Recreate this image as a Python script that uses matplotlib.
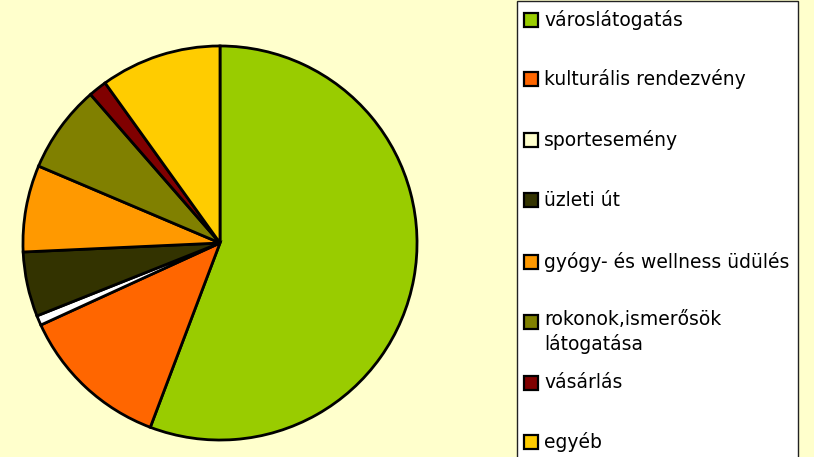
import matplotlib.pyplot as plt
from matplotlib.patches import Rectangle

# data (percent)
categories = ["városlátogatás", "kulturális rendezvény", "sportesemény", "üzleti út",
              "gyógy- és wellness üdülés", "rokonok,ismerősök\nlátogatása", "vásárlás", "egyéb"]
shares = [55.7, 12.4, 0.8, 5.3, 7.1, 7.2, 1.5, 9.9]
colors = ["#99CC00", "#FF6600", "#FFFFFF", "#333300", "#FF9900", "#808000", "#800000", "#FFCC00"]
legend_swatch = ["#99CC00", "#FF6600", "#FFFFCC", "#333300", "#FF9900", "#808000", "#800000", "#FFCC00"]

W, H = 814, 457
fig = plt.figure(figsize=(W / 100, H / 100), dpi=100)
fig.patch.set_facecolor("#FFFFCC")

# pie: centre (220, 243) px, radius 199 px
cx, cy, r = 220, 243, 199
ax = fig.add_axes([(cx - r) / W, (H - cy - r) / H, 2 * r / W, 2 * r / H])
ax.pie(shares, colors=colors, startangle=90, counterclock=False, radius=1,
       wedgeprops=dict(edgecolor="black", linewidth=2.0))
ax.set_xlim(-1.01, 1.01)
ax.set_ylim(-1.01, 1.01)
ax.set_axis_off()

# legend box drawn by hand (the two-line label overflows like in the original)
fig.patches.append(Rectangle((517 / W, -0.01), 281 / W, 1.01 - 1.5 / H, transform=fig.transFigure,
                             facecolor="white", edgecolor="#222222", linewidth=1.0))
ys = [20, 79, 140, 200, 262, 322, 383, 442]
for lab, col, y in zip(categories, legend_swatch, ys):
    fig.patches.append(Rectangle((524 / W, (H - y - 7) / H), 14 / W, 14 / H, transform=fig.transFigure,
                                 facecolor=col, edgecolor="black", linewidth=1.6))
    if "\n" in lab:
        fig.text(544 / W, (H - y + 12) / H, lab, fontsize=13.5, va="top", ha="left",
                 color="black", linespacing=1.3)
    else:
        fig.text(544 / W, (H - y) / H, lab, fontsize=13.5, va="center", ha="left", color="black")

fig.savefig("out.png", dpi=100, facecolor=fig.get_facecolor())
